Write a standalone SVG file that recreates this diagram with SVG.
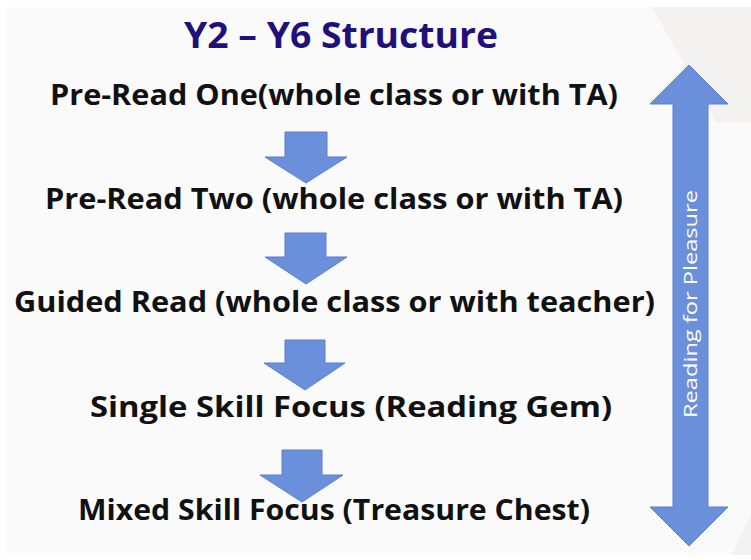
<svg xmlns="http://www.w3.org/2000/svg" width="751" height="560" viewBox="0 0 751 560">
<style>
.t{font-family:"Open Sans","Liberation Sans",Arial,sans-serif;font-weight:bold;font-size:28px;fill:#111}
.title{font-family:"Open Sans","Liberation Sans",Arial,sans-serif;font-weight:bold;font-size:35px;fill:#22107a}
.arr{fill:#6a8fdb;stroke:#5a7fcc;stroke-width:1}
.side{font-family:"Open Sans","Liberation Sans",Arial,sans-serif;font-size:18px;fill:#ffffff}
</style>
<rect x="0" y="0" width="751" height="560" fill="#ffffff"/>
<rect x="7" y="7" width="744" height="548" fill="#fafafa"/>
<polygon points="652,7 751,7 751,122 716,122" fill="#f3f2f1"/>
<polygon points="732,555 751,515 751,555" fill="#f2f2f2"/>
<g id="title"><text class="title" x="341" y="48" text-anchor="middle" textLength="314" lengthAdjust="spacingAndGlyphs">Y2 – Y6 Structure</text></g>
<g id="step1"><text class="t" x="50" y="105" textLength="568" lengthAdjust="spacingAndGlyphs">Pre-Read One(whole class or with TA)</text></g>
<g id="step2"><text class="t" x="45" y="209" textLength="578" lengthAdjust="spacingAndGlyphs">Pre-Read Two (whole class or with TA)</text></g>
<g id="step3"><text class="t" x="14" y="312" textLength="641" lengthAdjust="spacingAndGlyphs">Guided Read (whole class or with teacher)</text></g>
<g id="step4"><text class="t" x="90" y="417" textLength="522" lengthAdjust="spacingAndGlyphs">Single Skill Focus (Reading Gem)</text></g>
<g id="step5"><text class="t" x="78" y="520" textLength="512" lengthAdjust="spacingAndGlyphs">Mixed Skill Focus (Treasure Chest)</text></g>
<g id="connectors">
<polygon class="arr" points="285,132 327,132 327,157 347,157 306,183 265,157 285,157"/>
<polygon class="arr" points="285,233 326,233 326,257 347,257 306,284 265,257 285,257"/>
<polygon class="arr" points="285,340 325,340 325,363 345,363 305,390 264,363 285,363"/>
<polygon class="arr" points="282,450 322,450 322,475 343,475 302,502 260,475 282,475"/>
</g>
<g id="reading-for-pleasure">
<polygon class="arr" points="689,65 728,104 708,104 708,507 728,507 689,546 650,507 673,507 673,104 650,104"/>
<text class="side" transform="translate(690,304) rotate(-90)" text-anchor="middle" dominant-baseline="central" textLength="228" lengthAdjust="spacingAndGlyphs">Reading for Pleasure</text>
</g>
</svg>
